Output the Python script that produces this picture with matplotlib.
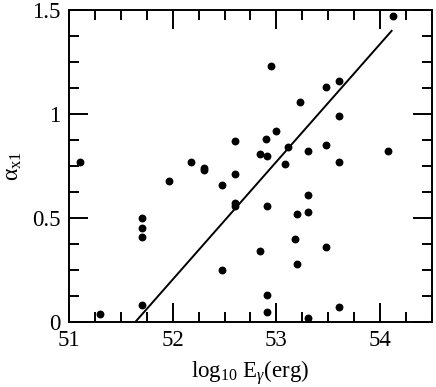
import matplotlib
matplotlib.use("Agg")
import matplotlib.pyplot as plt
from matplotlib.ticker import MultipleLocator

plt.rcParams['font.family'] = ['Liberation Serif', 'DejaVu Serif']
plt.rcParams['mathtext.fontset'] = 'custom'
plt.rcParams['mathtext.rm'] = 'Liberation Serif'
plt.rcParams['mathtext.it'] = 'Liberation Serif:italic'

# data: log10 E_gamma (erg) vs alpha_x1
log_e = [51.11, 51.30, 51.70, 51.70, 51.70, 51.70, 51.96, 52.18, 52.30, 52.30,
         52.48, 52.48, 52.60, 52.60, 52.60, 52.60, 52.84, 52.84, 52.91, 52.91,
         52.91, 52.91, 52.90, 52.95, 53.00, 53.08, 53.11, 53.18, 53.20, 53.20,
         53.23, 53.30, 53.30, 53.30, 53.30, 53.48, 53.48, 53.48, 53.60, 53.60,
         53.60, 53.60, 54.08, 54.12]
alpha = [0.77, 0.04, 0.50, 0.45, 0.41, 0.08, 0.68, 0.77, 0.74, 0.73,
         0.66, 0.25, 0.87, 0.71, 0.57, 0.56, 0.81, 0.34, 0.80, 0.56,
         0.13, 0.05, 0.88, 1.23, 0.92, 0.76, 0.84, 0.40, 0.52, 0.28,
         1.06, 0.82, 0.61, 0.53, 0.02, 1.13, 0.85, 0.36, 1.16, 0.99,
         0.77, 0.07, 0.82, 1.47]

# fit line endpoints
fit_x = [51.64, 54.11]
fit_y = [0.0, 1.40]

fig = plt.figure(figsize=(4.36, 3.87), dpi=100)
ax = fig.add_axes([0.158, 0.168, 0.833, 0.806])

ax.scatter(log_e, alpha, s=32, color='black', zorder=3, linewidths=0)
ax.plot(fit_x, fit_y, color='black', lw=1.4)

ax.set_xlim(51, 54.5)
ax.set_ylim(0, 1.5)
ax.xaxis.set_major_locator(MultipleLocator(1))
ax.xaxis.set_minor_locator(MultipleLocator(0.25))
ax.yaxis.set_major_locator(MultipleLocator(0.5))
ax.yaxis.set_minor_locator(MultipleLocator(0.125))
ax.set_yticks([0, 0.5, 1, 1.5])
ax.set_yticklabels(['0', '0.5', '1', '1.5'])

ax.tick_params(which='both', direction='in', top=True, right=True, width=1.4,
               labelsize=16.5)
ax.tick_params(which='major', length=14)
ax.tick_params(which='minor', length=7)
ax.tick_params(axis='x', pad=6)
ax.tick_params(axis='y', pad=6)
for s in ax.spines.values():
    s.set_linewidth(1.4)

ax.set_xlabel(r'log$_{10}$ E$_{\gamma}$(erg)', fontsize=16.5, labelpad=5)
ax.set_ylabel('α$_{\\rm x1}$', fontsize=17, labelpad=6)

fig.savefig('out.png', dpi=100)
